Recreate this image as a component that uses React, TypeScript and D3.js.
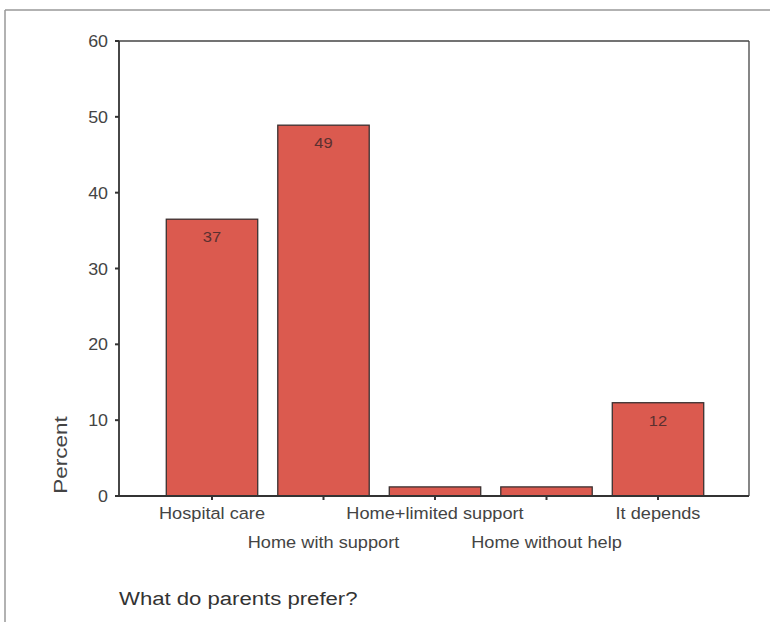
import React from "react";
import * as d3 from "d3";

const categories = ["Hospital care", "Home with support", "Home+limited support", "Home without help", "It depends"];
const values = [36.5, 48.9, 1.2, 1.2, 12.3];
const valueLabels = ["37", "49", "", "", "12"];
const yTicks = [0, 10, 20, 30, 40, 50, 60];

export default function App() {
  const W = 770, H = 622;
  const left = 119, right = 749, top = 41, bottom = 496;
  const y = d3.scaleLinear().domain([0, 60]).range([bottom, top]);
  const x = d3.scaleBand<string>().domain(categories).range([156.25, 713.75]).padding(0);
  const bw = x.bandwidth() * 0.82;
  const font = "'Liberation Sans', Arial, sans-serif";
  return (
    <svg width={W} height={H} style={{ position: "absolute", left: 0, top: 0, background: "#fff" }}>
      <rect x={0} y={0} width={W} height={H} fill="#fff" />
      <line x1={5} y1={10} x2={770} y2={10} stroke="#999" strokeWidth={1.5} />
      <line x1={5} y1={10} x2={5} y2={622} stroke="#999" strokeWidth={1.5} />
      {/* bars */}
      {categories.map((c, i) => {
        const cx = (x(c) as number) + x.bandwidth() / 2;
        return (
          <g key={c}>
            <rect x={cx - bw / 2} y={y(values[i])} width={bw} height={y(0) - y(values[i])}
              fill="#db5a4f" stroke="#3a3030" strokeWidth={1.3} />
            {valueLabels[i] && (
              <text transform={`translate(${cx},${y(values[i]) + 23}) scale(1.1,1)`} textAnchor="middle" fontFamily={font} fontSize={15} fill="#5a3030">{valueLabels[i]}</text>
            )}
          </g>
        );
      })}
      {/* frame */}
      <line x1={left} y1={top} x2={right} y2={top} stroke="#444" strokeWidth={1.5} />
      <line x1={right} y1={top} x2={right} y2={bottom} stroke="#444" strokeWidth={1.3} />
      <line x1={left} y1={top} x2={left} y2={bottom} stroke="#333" strokeWidth={1.8} />
      <line x1={left} y1={bottom} x2={right} y2={bottom} stroke="#333" strokeWidth={1.8} />
      {/* y ticks */}
      {yTicks.map((t) => (
        <g key={t}>
          <line x1={left - 4} x2={left} y1={y(t)} y2={y(t)} stroke="#333" strokeWidth={2} />
          <text transform={`translate(${left - 11},${y(t) + 6}) scale(1.05,1)`} textAnchor="end" fontFamily={font} fontSize={17} fill="#444">{t}</text>
        </g>
      ))}
      {/* x ticks and labels */}
      {categories.map((c, i) => {
        const cx = (x(c) as number) + x.bandwidth() / 2;
        return (
          <g key={c}>
            <line x1={cx} x2={cx} y1={bottom} y2={bottom + 4} stroke="#333" strokeWidth={2} />
            <text transform={`translate(${cx},${i % 2 === 0 ? 519 : 548}) scale(1.07,1)`} textAnchor="middle" fontFamily={font} fontSize={17} fill="#444">{c}</text>
          </g>
        );
      })}
      <text transform={`translate(67,455) rotate(-90) scale(1.25,1)`} textAnchor="middle" fontFamily={font} fontSize={18} fill="#444">Percent</text>
      <text transform="translate(119,605) scale(1.23,1)" fontFamily={font} fontSize={18} fill="#333">What do parents prefer?</text>
    </svg>
  );
}
